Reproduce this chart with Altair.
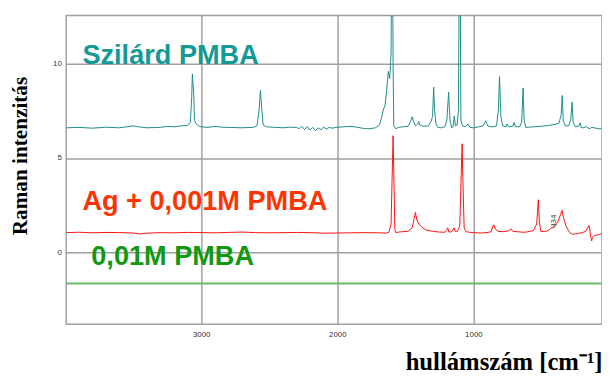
import altair as alt
import pandas as pd

# Szilárd PMBA spectrum (wavenumber, intensity)
solid_wn = [3990, 3900, 3800, 3700, 3600, 3500, 3450, 3400, 3300, 3250, 3200, 3150, 3100, 3080, 3070, 3065, 3060, 3055, 3050, 3040, 3020,
            3000, 2950, 2900, 2850, 2800, 2700, 2620, 2590, 2575, 2565, 2555, 2545, 2520, 2450, 2400, 2350, 2300, 2280, 2260, 2240,
            2220, 2200, 2180, 2160, 2140, 2120, 2100, 2080, 2060, 2040, 2000, 1950, 1900, 1850, 1800, 1760, 1720, 1690, 1675, 1660,
            1650, 1640, 1625, 1615, 1605, 1597, 1590, 1585, 1570, 1550, 1520, 1480, 1460, 1450, 1440, 1425, 1410, 1402, 1395, 1370,
            1330, 1310, 1300, 1292, 1285, 1275, 1260, 1240, 1210, 1195, 1182, 1172, 1160, 1150, 1140, 1132, 1120, 1110, 1100, 1092,
            1080, 1060, 1040, 1025, 1000, 960, 930, 910, 895, 860, 830, 817, 808, 798, 785, 760, 753, 740, 710, 700, 692, 660, 645,
            635, 627, 615, 580, 540, 500, 450, 400, 370, 355, 347, 340, 325, 300, 285, 275, 267, 250, 225, 216, 208, 190, 170, 150,
            130, 100, 80, 60]
solid_int = [6.60, 6.62, 6.58, 6.63, 6.60, 6.70, 6.64, 6.60, 6.62, 6.68, 6.65, 6.70, 6.72, 6.90, 8.2, 9.44, 8.9, 8.5, 7.0, 6.85, 6.70,
             6.65, 6.62, 6.68, 6.63, 6.62, 6.60, 6.62, 6.70, 7.5, 8.59, 7.6, 6.75, 6.65, 6.62, 6.60, 6.63, 6.62, 6.55, 6.68, 6.50,
             6.66, 6.48, 6.62, 6.45, 6.60, 6.50, 6.64, 6.52, 6.62, 6.58, 6.63, 6.65, 6.68, 6.62, 6.56, 6.55, 6.60, 6.75, 7.14, 7.6,
             7.75, 8.4, 9.58, 9.2, 10.5, 20.0, 10.0, 6.7, 6.55, 6.62, 6.65, 6.68, 6.95, 7.18, 6.95, 6.70, 6.80, 6.93, 6.75, 6.68,
             6.70, 6.95, 7.2, 8.75, 7.5, 6.8, 6.62, 6.60, 6.65, 7.0, 8.48, 7.0, 6.6, 6.65, 7.23, 6.7, 6.75, 7.5, 20.0, 7.0,
             6.70, 6.65, 6.80, 6.62, 6.60, 6.65, 6.70, 6.97, 6.70, 6.65, 6.70, 7.5, 9.32, 7.2, 6.70, 6.65, 6.80, 6.65, 6.68, 6.88, 6.66, 6.65, 6.9,
             8.71, 7.0, 6.62, 6.64, 6.66, 6.68, 6.72, 6.78, 6.85, 7.3, 8.31, 7.0, 6.70, 6.70, 7.0, 7.96, 6.9, 6.65, 6.70, 6.86, 6.62, 6.60, 6.66, 6.55,
             6.62, 6.58, 6.55, 6.55]

# Ag + 0,001M PMBA spectrum
ag_wn = [3990, 3900, 3800, 3700, 3600, 3500, 3460, 3400, 3300, 3200, 3100, 3000, 2900, 2800, 2700, 2600, 2500, 2400, 2300, 2200,
         2100, 2000, 1900, 1800, 1700, 1640, 1620, 1605, 1597, 1590, 1583, 1577, 1570, 1550, 1520, 1480, 1450, 1435, 1426, 1415,
         1400, 1380, 1350, 1300, 1250, 1210, 1195, 1189, 1180, 1160, 1150, 1143, 1135, 1120, 1100, 1090, 1083, 1076, 1068, 1055,
         1030, 1000, 950, 900, 870, 855, 850, 840, 820, 780, 740, 724, 710, 680, 650, 620, 600, 560, 535, 523, 515, 505, 480,
         450, 430, 410, 380, 360, 349, 340, 320, 300, 285, 270, 250, 220, 200, 175, 160, 150, 145, 138, 131, 125, 110, 90, 71, 58]
ag_int = [1.05, 1.07, 1.04, 1.06, 1.05, 1.03, 0.98, 1.02, 1.05, 1.04, 1.06, 1.05, 1.04, 1.06, 1.08, 1.05, 1.04, 1.05, 1.06, 1.05,
          1.02, 1.03, 1.04, 1.05, 1.04, 1.02, 1.08, 1.5, 4.0, 6.18, 3.5, 1.2, 1.05, 1.08, 1.10, 1.12, 1.3, 1.8, 2.12, 1.7,
          1.5, 1.35, 1.2, 1.12, 1.08, 1.07, 1.2, 1.31, 1.08, 1.1, 1.2, 1.31, 1.12, 1.1, 1.4, 4.0, 5.75, 3.5, 1.3, 1.1,
          1.07, 1.05, 1.03, 1.05, 1.10, 1.4, 1.46, 1.25, 1.12, 1.10, 1.15, 1.25, 1.12, 1.10, 1.08, 1.07, 1.10, 1.15, 1.5, 2.79, 1.6, 1.12, 1.10,
          1.15, 1.30, 1.31, 1.6, 2.0, 2.23, 1.9, 1.4, 1.15, 1.00, 0.96, 0.98, 1.02, 1.05, 1.12, 1.30, 1.43, 1.2, 0.85, 0.61, 0.80, 0.90, 0.92, 0.96, 1.0]

# 0,01M PMBA (flat line)
sol_wn = [3990, 55]
sol_int = [-1.64, -1.64]

# Labels
label_text = ["Szilárd PMBA", "Ag + 0,001M PMBA", "0,01M PMBA"]
label_wn = [3873, 3873, 3808]
label_int = [10.0, 2.26, -0.66]
label_color = ["#139a94", "#ff3300", "#119911"]

peak_text = ["434"]
peak_wn = [405]
peak_int = [1.65]

XD = [3992, 55]
YD = [-3.8, 12.55]

xs = alt.Scale(domain=XD, nice=False, zero=False)
ys = alt.Scale(domain=YD, nice=False, zero=False)

df_solid = pd.DataFrame({"wn": solid_wn, "I": solid_int, "o": range(len(solid_wn))})
df_ag = pd.DataFrame({"wn": ag_wn, "I": ag_int, "o": range(len(ag_wn))})
df_sol = pd.DataFrame({"wn": sol_wn, "I": sol_int, "o": range(len(sol_wn))})
df_lab = pd.DataFrame({"t": label_text, "wn": label_wn, "I": label_int, "c": label_color})
df_peak = pd.DataFrame({"t": peak_text, "wn": peak_wn, "I": peak_int})

xaxis = alt.Axis(values=[1000, 2000, 3000], format="d", grid=True, ticks=False, domain=False,
                 labelFontSize=8, labelFont="Liberation Sans", labelColor="#333333", labelPadding=6,
                 title="hullámszám [cm⁻¹]", titleFont="Liberation Serif", titleFontSize=25,
                 titleFontWeight="bold", titleColor="#000000", titleAlign="right", titleAnchor="end",
                 titleBaseline="alphabetic", titleX=543, titleY=46)
yaxis = alt.Axis(values=[0, 5, 10], format="d", grid=True, ticks=False, domain=False,
                 labelFontSize=8, labelFont="Liberation Sans", labelColor="#333333", labelPadding=5,
                 title="Raman intenzitás", titleFont="Liberation Serif", titleFontSize=21.5,
                 titleFontWeight="bold", titleColor="#000000", titleAngle=270, titleAlign="center",
                 titleBaseline="alphabetic", titleX=-40, titleY=142)

base_solid = alt.Chart(df_solid).mark_line(color="#1a8c86", strokeWidth=1, clip=True).encode(
    x=alt.X("wn:Q", scale=xs, axis=xaxis),
    y=alt.Y("I:Q", scale=ys, axis=yaxis),
    order="o:Q",
)
line_ag = alt.Chart(df_ag).mark_line(color="#ff1010", strokeWidth=1, clip=True).encode(
    x=alt.X("wn:Q", scale=xs), y=alt.Y("I:Q", scale=ys), order="o:Q")
line_sol = alt.Chart(df_sol).mark_line(color="#6dbb6d", strokeWidth=2, clip=True).encode(
    x=alt.X("wn:Q", scale=xs), y=alt.Y("I:Q", scale=ys), order="o:Q")

labels = alt.Chart(df_lab).mark_text(font="Liberation Sans", fontWeight="bold", fontSize=27.5,
                                     align="left", baseline="alphabetic").encode(
    x=alt.X("wn:Q", scale=xs), y=alt.Y("I:Q", scale=ys), text="t:N",
    color=alt.Color("c:N", scale=None))

peak = alt.Chart(df_peak).mark_text(font="Liberation Sans", fontSize=8, angle=270, color="#444444",
                                    align="center", baseline="middle").encode(
    x=alt.X("wn:Q", scale=xs), y=alt.Y("I:Q", scale=ys), text="t:N")

chart = alt.layer(base_solid, line_ag, line_sol, labels, peak).properties(
    width=543, height=313,
    autosize=alt.AutoSizeParams(type="none"),
    padding={"left": 59, "top": 5, "right": 0, "bottom": 52},
).configure_view(stroke="#a0a0a0", strokeWidth=1.5).configure_axis(
    gridColor="#a0a0a0", gridWidth=1.5
)

chart.save("out.html", embed_options={"renderer": "svg", "actions": False})
